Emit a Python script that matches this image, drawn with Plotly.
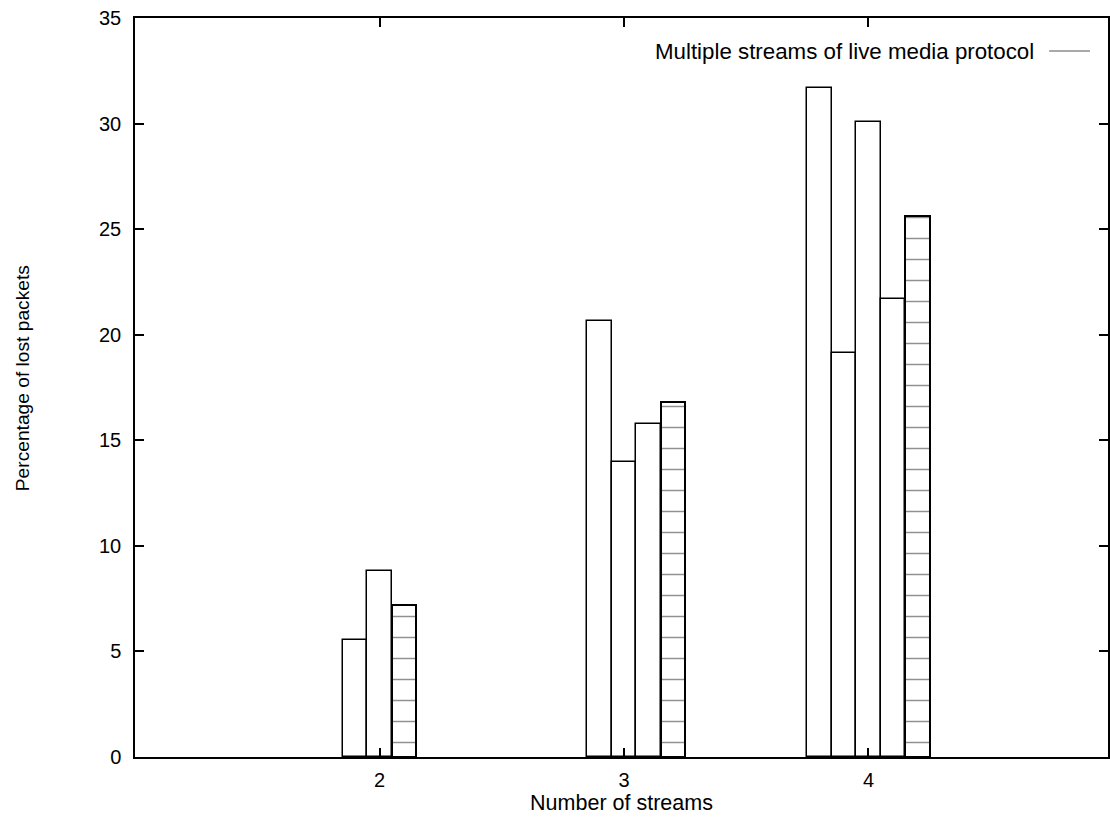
import plotly.graph_objects as go

# ---- data ----
streams = [2, 3, 4]
loss_2_streams = [5.54, 8.83, 7.20]          # last value = dashed bar
loss_3_streams = [20.67, 13.99, 15.77, 16.82]
loss_4_streams = [31.69, 19.14, 30.08, 21.68, 25.63]
legend_label = "Multiple streams of live media protocol"
x_title = "Number of streams"
y_title = "Percentage of lost packets"
y_ticks = [0, 5, 10, 15, 20, 25, 30, 35]

# ---- layout helpers (bar offsets within each group) ----
offsets = {
    2: [-0.1, 0.0, 0.1],
    3: [-0.1, 0.0, 0.1, 0.2],
    4: [-0.2, -0.1, 0.0, 0.1, 0.2],
}
groups = {2: loss_2_streams, 3: loss_3_streams, 4: loss_4_streams}
BAR_W = 0.1
FAM = "Liberation Sans, Arial, sans-serif"
TICK_FONT = dict(family=FAM, size=20, color="black")
XT_FONT = dict(family=FAM, size=21.5, color="black")
YT_FONT = dict(family=FAM, size=19.2, color="black")
LEG_FONT = dict(family=FAM, size=22.3, color="black")

L, R_EDGE, T, B = 135, 1110, 18, 757

fig = go.Figure()

plain_x, plain_y, dash_x, dash_y = [], [], [], []
for n in streams:
    vals = groups[n]
    offs = offsets[n]
    for i, v in enumerate(vals):
        if i == len(vals) - 1:
            dash_x.append(n + offs[i]); dash_y.append(v)
        else:
            plain_x.append(n + offs[i]); plain_y.append(v)

fig.add_trace(go.Bar(
    x=plain_x, y=plain_y, width=BAR_W,
    marker=dict(color="white", line=dict(color="black", width=1.5)),
    showlegend=False, hoverinfo="x+y",
))
fig.add_trace(go.Bar(
    x=dash_x, y=dash_y, width=BAR_W,
    marker=dict(color="white", line=dict(color="black", width=2),
                pattern=dict(shape="-", fgcolor="#222222", bgcolor="white",
                             size=21, solidity=0.07, fillmode="overlay")),
    showlegend=False, hoverinfo="x+y",
))

# legend (gnuplot style: text then line sample)
fig.add_annotation(xref="paper", yref="paper", x=(1038 - L) / (R_EDGE - L), y=(B - 51) / (B - T),
                   text=legend_label, showarrow=False, xanchor="right", yanchor="middle",
                   font=LEG_FONT)
fig.add_shape(type="line", xref="paper", yref="paper",
              x0=(1051 - L) / (R_EDGE - L), x1=(1092 - L) / (R_EDGE - L),
              y0=(B - 51) / (B - T), y1=(B - 51) / (B - T),
              line=dict(color="#555555", width=1.2))

# y-axis title placed like gnuplot's (slightly above centre)
fig.add_annotation(xref="paper", yref="paper", x=(22 - L) / (R_EDGE - L), y=(B - 378) / (B - T),
                   text=y_title, textangle=-90, showarrow=False,
                   xanchor="center", yanchor="middle", font=YT_FONT)

fig.update_layout(
    width=1110, height=819,
    margin=dict(l=L, r=0, t=T, b=819 - B),
    paper_bgcolor="white", plot_bgcolor="white",
    font=TICK_FONT, bargap=0, barmode="overlay",
    showlegend=False,
)
fig.update_xaxes(
    range=[1, 1 + (R_EDGE - L) / 245.0],
    tickvals=streams, ticktext=[str(s) for s in streams],
    ticks="inside", ticklen=9, tickwidth=1.5, tickcolor="black",
    showline=True, linecolor="black", linewidth=1.5, mirror="ticks",
    showgrid=False, zeroline=False,
    tickfont=TICK_FONT,
    title=dict(text=x_title, font=XT_FONT, standoff=0),
    ticklabelstandoff=4,
)
fig.update_yaxes(
    range=[0, 35], tickvals=y_ticks,
    ticks="inside", ticklen=9, tickwidth=1.5, tickcolor="black",
    showline=True, linecolor="black", linewidth=1.5, mirror="ticks",
    showgrid=False, zeroline=False,
    tickfont=TICK_FONT,
    ticklabelstandoff=8,
)

fig.write_html("out.html")
